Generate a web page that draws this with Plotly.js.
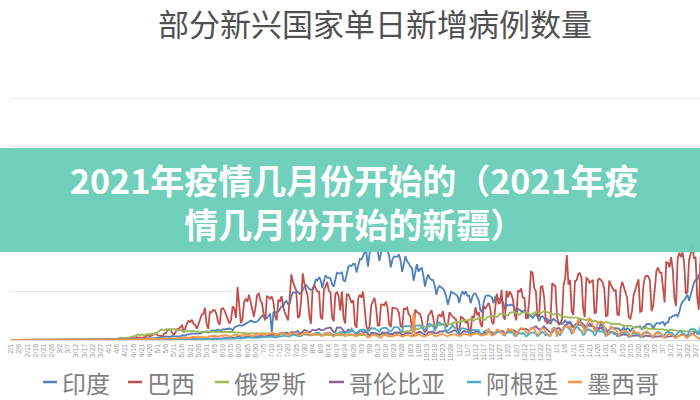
<!DOCTYPE html>
<html><head><meta charset="utf-8">
<script src="https://cdn.plot.ly/plotly-3.0.1.min.js"></script>
<style>html,body{margin:0;padding:0;background:#fff}#chart{width:700px;height:400px}</style>
</head><body><div id="chart"></div>
<script>
// ---- data (daily new cases, thousands), one row = one week (Sat..Fri), from 2020-02-01
const startDate = '2020-02-01';
const chartTitle = '部分新兴国家单日新增病例数量';
const bannerLine1 = '2021年疫情几月份开始的（2021年疫';
const bannerLine2 = '情几月份开始的新疆）';
const seriesNames = ['印度', '巴西', '俄罗斯', '哥伦比亚', '阿根廷', '墨西哥'];

const india = [
0,0,0,0,0,0,0, 0,0,0,0,0,0,0, 0,0,0,0,0,0,0, 0,0,0,0,0,0,0,
0,0,0,0,0,0,0, 0,0,0,0,0,0,0, 0,0,0,0,0,0.1,0.1, 0.1,0.1,0.1,0.1,0.1,0.1,0.2,
0.1,0.2,0.1,0.3,0.4,0.5,0.5, 0.6,0.5,0.5,0.6,0.5,0.8,0.9, 0.8,0.9,0.7,1.4,1.1,1.0,1.1, 1.3,1.6,1.3,1.5,1.5,1.7,1.8,
1.8,1.6,1.6,1.9,1.8,1.8,2.4, 2.7,2.8,3.9,3.0,3.6,3.3,3.3, 3.3,4.2,3.6,3.6,3.7,3.9,3.9, 4.9,5.0,4.6,5.6,5.6,6.1,6.6,
6.7,6.8,6.5,6.4,6.6,7.5,7.9, 8.4,8.8,7.8,8.2,9.6,9.8,9.9, 9.9,10.9,9.9,9.9,11.2,10.9,11.5, 12.0,11.9,11.5,10.0,12.9,13.6,14.5,
15.4,14.8,14.9,15.9,16.9,17.3,18.6, 19.9,19.5,18.5,18.6,19.1,20.9,22.7, 24.9,24.2,22.2,22.8,25.6,27.1,8, 28.6,29.1,28.5,29.4,32.7,35.0,34.9,
38.9,40.4,37.1,37.7,45.7,49.3,48.9, 48.7,49.9,47.7,48.5,52.1,55.1,57.1, 54.7,52.9,52.0,52.5,56.3,62.5,61.5, 65.0,62.1,53.6,60.9,66.9,64.6,64.6,
63.5,57.9,55.1,64.5,69.7,69.0,68.9, 69.9,61.4,60.9,67.2,75.8,77.3,76.5, 78.8,78.5,69.9,78.4,83.9,83.3,86.4, 90.6,90.8,75.8,89.7,95.7,96.6,97.6,
94.4,92.1,81.9,90.1,97.9,96.4,93.3, 92.6,86.9,75.1,83.3,86.5,86.1,86.0, 88.6,82.2,70.6,80.5,86.8,81.5,79.5, 75.8,74.4,61.3,72.0,78.5,70.5,73.3,
74.4,66.7,55.3,63.5,67.7,63.4,62.2, 61.9,55.7,46.8,54.0,55.8,54.4,53.4, 50.1,45.1,36.5,43.9,49.9,48.6,48.3, 46.9,45.2,38.3,46.3,50.2,47.6,50.4,
45.7,45.9,38.1,44.3,48.0,47.9,44.9, 41.1,30.5,29.2,38.6,45.6,45.9,46.2, 45.2,44.1,37.9,44.4,44.5,43.1,41.3, 41.8,38.8,31.1,36.6,35.6,36.6,36.7,
36.0,32.9,26.6,32.1,31.5,29.4,30.0, 30.3,27.1,22.1,26.4,24.0,22.9,25.2, 26.6,24.3,19.6,23.9,24.7,23.1,18.7, 22.3,18.7,16.4,20.5,21.8,20.0,19.1,
18.2,16.5,16.4,18.1,20.3,18.1,18.1, 18.6,16.3,12.6,15.9,16.9,15.6,15.2, 15.1,13.8,10.1,13.8,15.2,14.5,14.3, 14.3,13.2,9.1,12.7,11.7,18.9,13.0,
13.1,11.4,8.6,11.0,12.9,12.4,12.4, 11.7,12.1,11.8,9.1,11.1,12.9,9.3, 12.2,11.4,9.1,11.6,12.9,13.2,13.2, 13.9,14.3,10.6,13.7,13.7,16.7,16.6,
16.5,15.5,12.3,14.9,17.4,17.4,16.8, 18.3,18.7,15.4,17.9,17.9,22.9,23.3, 24.9,25.3,26.3,24.5,28.9,35.9,39.7, 40.9,43.8,46.9,40.7,47.3,53.5,59.1,
62.3,62.7,68.0,56.2,72.3
];

const brazil = [
0,0,0,0,0,0,0, 0,0,0,0,0,0,0, 0,0,0,0,0,0,0, 0,0,0,0,0,0,0,
0,0,0,0,0,0,0, 0,0,0,0,0,0.1,0.1, 0.1,0.1,0.1,0.1,0.1,0.3,0.4, 0.3,0.4,0.3,0.3,0.2,0.5,0.5,
0.5,0.4,0.3,1.1,1.2,1.1,1.1, 1.2,0.9,0.9,1.7,2.2,1.9,1.1, 1.2,1.1,1.3,1.8,3.1,3.3,3.6, 2.9,1.9,1.8,1.9,2.3,3.0,4.0,
5.5,3.4,4.6,5.4,6.3,7.2,5.0, 4.6,4.6,4.1,6.9,6.9,10.5,11.1, 10.6,6.8,5.6,9.3,11.4,11.9,13.9, 15.0,7.9,13.1,17.4,19.9,18.5,20.8,
16.5,15.8,11.7,16.3,20.6,26.4,26.9, 33.3,16.4,11.6,28.9,28.6,30.9,30.8, 27.1,18.9,15.7,32.1,32.9,30.4,25.9, 21.7,17.1,20.6,34.9,32.2,22.8,54.8,
34.7,17.5,21.4,39.4,42.7,39.5,46.9, 38.7,30.5,24.1,33.8,46.7,48.1,41.0, 37.9,26.0,20.2,45.3,44.6,42.6,45.0, 39.0,24.8,20.3,41.9,39.7,45.4,34.2,
28.5,23.5,20.3,44.9,67.9,59.9,55.9, 51.1,23.0,24.6,40.8,69.1,57.8,52.4, 45.4,25.8,16.6,51.6,57.2,53.1,50.2, 49.9,23.0,22.0,52.2,55.2,60.1,50.6,
49.3,23.1,19.4,47.8,49.3,45.3,30.4, 50.0,23.4,17.0,47.1,47.2,42.0,38.4, 41.3,16.2,12.6,42.7,46.9,43.8,50.2, 30.2,14.5,10.3,14.3,35.8,40.6,43.7,
33.5,14.8,15.2,36.7,36.8,35.7,39.8, 33.1,16.4,13.4,33.5,33.5,32.8,31.9, 28.3,14.3,13.4,32.1,31.9,33.4,26.6, 24.6,11.9,8.1,31.6,28.9,27.8,26.7,
20.6,10.4,8.4,10.2,25.4,27.2,30.9, 23.4,12.3,13.5,24.8,26.1,23.9,30.0, 18.9,13.5,15.7,28.6,26.1,24.0,22.5, 21.6,10.1,8.5,23.9,23.0,21.5,17.4,
20.5,9.4,9.6,24.7,23.0,33.9,25.7, 29.1,17.1,13.4,35.2,32.2,35.3,38.4, 33.2,18.6,16.3,31.1,47.9,37.6,38.1, 51.9,24.5,21.1,50.9,44.3,50.4,46.9,
41.6,26.4,20.3,51.1,49.9,53.4,43.9, 43.6,21.8,25.0,42.9,70.6,69.8,54.0, 50.2,25.0,23.9,55.0,55.8,44.8,22.3, 17.3,18.5,20.5,58.7,56.8,55.6,24.6,
15.8,17.3,21.0,56.6,64.0,87.8,57.3, 62.3,29.8,25.8,60.9,61.8,68.1,69.2, 64.5,33.0,23.7,64.0,63.0,59.1,61.3, 62.3,27.8,28.3,61.9,63.5,61.8,59.8,
52.5,24.6,25.4,61.6,56.9,53.9,50.9, 51.7,26.1,25.9,52.9,60.3,54.7,49.8, 43.6,23.5,22.1,30.1,46.5,51.9,57.1, 62.7,29.0,30.0,56.8,65.2,66.6,65.8,
61.6,29.7,35.4,58.2,71.7,75.1,69.6, 69.6,53.9,38.9,80.5,79.9,75.1,85.7, 72.6,43.8,35.0,84.5,90.3,86.0,90.6, 79.1,47.8,49.3,82.5,89.2,100.2,84.2,
85.9,44.3,31.4,84.5,90.6
];

const russia = [
0,0,0,0,0,0,0, 0,0,0,0,0,0,0, 0,0,0,0,0,0,0, 0,0,0,0,0,0,0,
0,0,0,0,0,0,0, 0,0,0,0,0,0,0, 0,0,0,0,0,0,0.1, 0.1,0.1,0.1,0.1,0.2,0.2,0.2,
0.2,0.3,0.3,0.5,0.4,0.8,0.6, 0.6,0.7,1.0,1.2,1.2,1.5,1.8, 1.7,2.2,2.6,2.8,3.4,3.5,4.1, 4.8,6.1,4.3,5.6,5.2,4.8,5.9,
6.0,6.4,6.2,6.4,5.8,7.1,7.9, 9.6,10.6,10.6,10.1,11.2,10.7,10.7, 10.8,11.0,11.7,10.9,10.0,10.0,10.6, 9.2,9.7,8.9,9.3,8.8,8.9,8.9,
9.4,8.6,9.0,8.9,8.3,8.4,8.6, 9.0,9.3,9.0,8.5,8.5,8.8,8.7, 8.9,9.0,8.6,8.4,8.4,8.8,9.0, 8.7,8.8,8.3,8.3,7.8,7.8,8.0,
7.9,7.7,7.6,7.4,7.2,7.1,6.8, 6.9,6.8,6.7,6.6,6.6,6.8,6.6, 6.7,6.7,6.6,6.4,6.6,6.6,6.6, 6.6,6.6,6.5,6.3,6.4,6.4,6.4,
6.2,6.1,5.9,5.8,5.9,5.8,5.9, 5.8,5.6,5.4,5.4,5.5,5.5,5.5, 5.5,5.4,5.2,5.2,5.2,5.2,5.2, 5.2,5.2,5.1,5.1,5.1,5.1,5.1,
5.1,4.9,4.8,4.8,4.8,4.8,4.9, 4.9,4.9,4.7,4.7,4.7,4.7,4.8, 4.9,5.0,4.7,4.7,4.7,5.0,5.1, 5.2,5.2,5.1,5.1,5.2,5.3,5.4,
5.4,5.5,5.5,5.7,5.8,5.9,6.1, 6.2,6.1,6.2,6.4,6.4,6.6,7.2, 7.5,7.9,8.1,8.1,8.2,8.5,9.4, 9.9,10.5,10.9,11.6,11.1,11.5,12.1,
12.8,13.6,13.6,13.9,14.2,14.2,15.1, 15.2,15.7,15.9,16.3,15.0,15.7,16.5, 17.3,17.0,16.6,16.6,16.2,17.7,18.3, 18.1,18.7,18.7,19.8,19.4,19.8,20.6,
20.5,20.6,21.8,20.9,19.9,21.6,21.6, 22.7,22.6,22.8,21.0,20.9,23.6,24.3, 24.6,24.8,25.2,24.3,23.7,25.2,27.5, 27.1,26.7,26.3,26.4,25.3,28.1,28.1,
28.8,29.0,28.1,27.0,26.1,27.9,28.6, 28.6,28.5,28.2,26.7,26.4,27.2,28.2, 28.9,28.6,28.1,27.1,28.6,29.9,29.3, 29.0,28.3,27.8,26.5,26.2,26.5,27.0,
27.0,25.2,24.2,24.0,23.5,24.2,23.4, 22.9,23.3,23.4,23.0,23.2,22.6,22.4, 21.8,21.5,21.0,20.2,21.6,20.9,20.2, 19.3,20.1,19.3,18.0,17.7,19.1,18.4,
17.8,18.4,18.4,17.6,16.6,16.2,16.6, 16.7,16.6,16.6,16.1,15.0,15.1,14.9, 14.2,15.1,14.7,14.2,12.8,13.2,13.4, 13.4,12.9,12.8,12.0,11.8,12.4,11.5,
11.7,11.8,11.4,11.8,11.0,10.6,11.0, 11.0,11.2,10.4,10.6,9.1,10.6,10.6, 10.3,10.0,9.3,9.4,9.6,9.5,9.3, 9.5,9.3,8.9,8.3,8.8,9.2,9.1,
8.8,8.6,8.6,8.6,8.3
];

const colombia = [
0,0,0,0,0,0,0, 0,0,0,0,0,0,0, 0,0,0,0,0,0,0, 0,0,0,0,0,0,0,
0,0,0,0,0,0,0, 0,0,0,0,0,0,0, 0,0,0,0,0,0,0, 0,0,0,0.1,0.1,0,0.1,
0.1,0.1,0.1,0.1,0.2,0.1,0.1, 0.1,0.1,0.1,0.1,0.2,0.1,0.2, 0.1,0.1,0.1,0.1,0.2,0.2,0.2, 0.2,0.2,0.2,0.2,0.2,0.3,0.3,
0.3,0.2,0.3,0.3,0.3,0.4,0.5, 0.4,0.4,0.3,0.5,0.5,0.6,0.6, 0.6,0.5,0.5,0.6,0.5,0.6,0.7, 0.8,0.5,0.6,0.8,0.8,0.8,1.0,
0.9,0.9,0.7,0.8,0.8,0.9,1.0, 1.3,0.8,0.9,1.3,1.1,1.6,1.5, 1.5,1.4,1.3,1.5,1.8,2.1,2.5, 2.0,2.1,1.8,1.6,2.4,2.8,3.2,
3.7,2.7,2.6,2.9,3.2,3.6,4.1, 3.7,3.4,3.2,3.7,3.8,4.2,3.9, 4.3,4.2,3.2,4.0,4.6,4.9,5.2, 5.3,4.7,4.2,4.8,7.1,7.7,7.0,
7.1,7.8,6.6,6.7,8.2,7.9,7.8, 8.6,9.4,6.3,8.0,8.7,10.2,9.5, 9.2,8.1,8.7,10.6,10.1,10.1,10.9, 11.5,10.3,10.3,10.5,11.9,12.1,12.1,
13.0,10.2,8.2,8.3,13.0,12.8,13.1, 11.8,9.5,7.2,8.8,10.9,9.5,9.9, 9.1,7.6,6.4,7.2,9.6,9.7,7.7, 8.3,8.1,6.3,5.0,7.5,7.5,6.9,
7.1,6.3,5.0,5.8,8.0,7.0,7.4, 8.0,6.3,5.6,5.6,7.5,7.7,8.0, 7.8,6.5,5.2,5.8,7.1,7.1,7.6, 7.3,6.3,4.6,4.9,7.6,8.3,8.4,
7.3,6.4,5.5,5.7,8.4,8.0,8.0, 8.8,6.9,7.1,7.5,8.9,8.6,8.8, 9.7,8.5,7.4,7.6,8.2,9.0,10.1, 9.3,7.6,6.0,6.2,8.4,9.4,8.6,
9.0,7.6,6.3,7.3,7.2,8.5,9.1, 8.3,7.0,5.2,6.1,8.0,7.2,8.4, 7.8,8.1,6.3,6.3,7.9,8.6,9.0, 9.2,9.0,7.0,7.2,8.7,9.8,9.6,
10.2,9.5,8.1,8.5,10.7,11.2,10.9, 11.3,11.4,10.0,9.5,11.6,12.5,13.4, 14.2,12.3,10.9,10.9,12.9,14.0,12.4, 11.2,9.2,7.6,7.7,10.4,11.6,11.5,
12.5,11.0,8.0,11.9,15.6,16.3,17.0, 18.0,14.9,13.1,14.1,16.8,17.4,21.0, 17.9,16.1,13.8,12.7,17.5,17.0,15.4, 14.4,13.1,10.0,10.5,12.0,12.5,11.2,
9.6,9.6,6.2,6.4,8.2,8.1,6.5, 6.6,5.2,4.7,4.6,5.6,5.5,5.6, 5.0,4.6,3.6,4.3,4.5,4.1,4.2, 4.7,4.2,3.3,3.2,4.6,4.1,4.0,
4.2,3.5,2.6,3.4,3.6,3.6,4.2, 3.9,3.2,2.6,3.0,3.9,3.6,4.3, 4.4,3.7,3.1,3.4,4.3,5.3,5.2, 5.7,5.0,4.1,4.2,6.2,6.3,7.0,
8.6,8.2,6.4,6.0,9.1
];

const argentina = [
0,0,0,0,0,0,0, 0,0,0,0,0,0,0, 0,0,0,0,0,0,0, 0,0,0,0,0,0,0,
0,0,0,0,0,0,0, 0,0,0,0,0,0,0, 0,0,0,0,0,0,0, 0,0,0,0.1,0.1,0.1,0.1,
0.1,0.1,0.1,0.1,0.1,0.1,0.1, 0.1,0.1,0.1,0.1,0.1,0.1,0.1, 0.1,0.1,0.1,0.1,0.1,0.1,0.1, 0.1,0.1,0.1,0.1,0.2,0.1,0.2,
0.1,0.1,0.1,0.1,0.1,0.2,0.2, 0.2,0.1,0.1,0.2,0.2,0.2,0.2, 0.2,0.2,0.2,0.3,0.3,0.3,0.4, 0.4,0.5,0.4,0.5,0.5,0.6,0.7,
0.7,0.6,0.5,0.6,0.8,0.7,0.8, 0.8,0.8,0.6,0.9,0.9,0.9,0.9, 1.1,1.0,0.8,1.1,1.2,1.4,1.4, 1.5,1.4,1.3,1.4,1.4,2.0,1.6,
2.0,1.6,1.8,2.1,2.6,2.6,2.9, 2.9,2.2,2.3,2.3,2.7,2.8,2.8, 2.8,2.6,2.6,2.7,2.8,3.6,3.4, 3.4,2.6,2.6,3.1,4.2,3.6,4.5,
4.2,3.8,3.2,3.5,4.9,5.8,4.8, 4.9,4.0,3.7,4.1,6.1,6.4,5.9, 5.9,4.9,4.8,5.6,6.8,7.1,7.5, 7.4,6.0,4.7,6.7,7.0,7.2,7.5,
6.9,5.6,5.1,5.9,6.8,7.7,8.2, 8.3,6.7,6.8,7.7,8.0,8.4,11.7, 9.1,7.2,7.6,8.4,10.1,10.5,10.9, 10.4,9.1,8.4,9.9,12.3,11.9,12.3,
10.8,10.1,8.5,11.5,12.2,12.7,12.7, 11.6,9.3,8.8,10.5,13.5,13.0,13.5, 12.0,9.3,8.9,14.4,14.4,14.0,14.7, 14.4,10.0,9.5,14.8,14.9,15.5,15.1,
15.1,10.6,11.0,12.0,15.2,16.8,15.3, 14.2,9.5,12.9,17.1,18.3,16.4,16.3, 15.7,8.9,9.7,11.0,13.0,15.5,12.8, 12.2,7.6,8.0,11.5,12.2,11.8,11.1,
10.9,6.9,7.4,10.5,10.4,11.0,10.5, 10.1,5.6,5.5,8.5,9.8,9.9,9.6, 8.8,4.9,6.1,8.5,8.3,8.6,8.5, 7.2,5.1,4.6,7.9,7.9,7.8,7.7,
7.3,4.4,4.4,6.2,7.3,6.3,7.3, 6.1,3.6,4.7,6.8,7.6,7.6,7.6, 6.3,4.0,5.3,7.2,8.5,7.3,4.7, 5.2,4.8,4.4,11.3,11.5,12.0,7.8,
6.9,5.2,10.1,13.1,13.8,14.0,12.2, 10.6,6.1,8.7,11.5,13.8,12.8,10.4, 9.6,5.3,5.9,9.7,11.0,10.5,9.7, 8.3,4.8,6.3,10.4,8.8,9.0,8.8,
7.5,4.3,5.6,8.5,8.2,8.1,7.7, 6.9,3.6,4.6,7.4,7.4,7.1,7.1, 5.3,3.1,3.8,4.8,7.2,7.1,6.7, 6.2,3.0,5.0,7.4,7.7,7.8,7.5,
6.8,3.5,3.2,5.1,7.8,8.3,7.5, 6.5,3.2,6.0,7.8,8.5,8.2,7.7, 7.0,3.4,5.2,7.6,8.6,9.4,7.0, 6.5,3.6,3.9,9.1,11.2,11.1,11.3,
10.4,5.8,8.0,14.0,16.0
];

const mexico = [
0,0,0,0,0,0,0, 0,0,0,0,0,0,0, 0,0,0,0,0,0,0, 0,0,0,0,0,0,0,
0,0,0,0,0,0,0, 0,0,0,0,0,0,0, 0,0,0,0,0,0,0, 0.1,0,0.1,0.1,0.1,0.1,0.1,
0.2,0.1,0.1,0.1,0.2,0.2,0.2, 0.2,0.3,0.3,0.4,0.4,0.3,0.2, 0.4,0.4,0.4,0.5,0.4,0.4,0.5, 0.6,0.8,0.7,0.8,0.6,1.0,1.0,
0.8,0.8,1.2,1.2,1.3,1.4,1.5, 1.3,1.1,1.4,1.4,1.6,1.5,2.0, 1.9,1.6,1.3,1.1,2.0,2.2,2.1, 2.6,2.4,2.4,2.7,2.1,2.2,3.0,
3.3,2.7,2.8,3.5,3.5,3.4,3.2, 3.0,2.8,2.8,3.9,3.9,4.4,4.4, 3.6,3.5,3.5,4.9,3.9,5.0,5.2, 4.7,3.4,3.4,4.6,4.9,5.7,5.0,
4.6,5.0,4.6,6.3,5.0,6.1,5.5, 4.4,4.1,4.1,5.4,6.7,6.4,6.7, 6.6,4.7,4.7,6.3,6.6,6.6,6.9, 7.3,5.0,4.5,6.1,6.7,7.6,7.0,
6.1,5.3,4.7,6.8,6.9,7.0,6.6, 6.8,5.6,4.6,5.2,6.6,7.2,7.0, 8.5,5.0,4.9,6.1,6.1,6.1,5.7, 5.9,4.4,4.1,6.7,6.4,6.3,7.3,
6.1,5.2,3.5,5.3,6.1,5.9,6.3, 6.5,5.6,3.9,4.4,5.8,5.8,5.8, 5.6,4.1,3.7,4.8,6.4,6.0,5.7, 6.0,4.3,2.5,3.5,4.3,5.0,5.9,
4.4,4.5,3.2,2.0,4.4,4.8,5.6, 3.9,3.9,3.3,3.9,4.6,5.4,5.4, 4.9,3.9,3.4,4.2,5.1,5.3,4.9, 4.5,3.7,28.1,4.0,4.9,6.3,5.6,
4.0,4.1,3.4,4.8,5.4,5.6,6.0, 6.0,3.9,4.5,4.3,6.2,5.4,6.2, 5.1,4.0,3.6,5.1,5.6,5.9,5.9, 5.9,4.3,4.6,4.4,5.9,6.4,6.2,
5.7,4.7,4.2,6.0,5.9,7.0,7.3, 5.9,4.7,4.8,4.8,6.1,5.7,12.1, 6.4,5.4,4.8,7.5,10.8,10.3,8.4, 6.4,5.3,6.4,8.4,12.1,9.5,11.0,
8.9,6.8,4.8,8.7,11.3,12.3,12.1, 11.0,7.7,6.8,10.4,12.3,11.9,12.1, 7.3,6.0,5.8,10.9,12.5,11.3,8.6, 5.9,4.2,4.9,10.4,12.8,10.5,3.4,
9.5,8.4,8.5,13.3,13.1,14.7,13.2, 14.4,9.8,6.6,14.4,15.9,21.4,18.2, 15.6,14.5,7.3,12.3,18.7,22.3,21.0, 14.6,8.7,10.9,17.2,18.9,18.6,16.9,
13.7,7.5,4.3,8.1,14.0,13.0,10.8, 10.7,7.2,4.8,7.3,9.7,9.6,9.0, 8.4,6.6,2.9,6.1,10.4,8.1,7.6, 7.5,6.1,3.8,7.2,7.8,9.1,7.3,
6.0,4.4,3.3,6.2,7.2,6.9,7.2, 5.8,3.4,2.5,4.8,6.0,6.6,5.7, 4.8,2.5,2.2,3.7,4.4,5.1,5.2, 5.0,2.7,2.1,3.6,5.4,5.8,5.4,
4.1,2.2,1.3,2.5,5.5
];

// ---- styles
const seriesColors = ['#4F81BD', '#C0504D', '#9BBB59', '#8064A2', '#4BACC6', '#F79646'];
const allSeries = [india, brazil, russia, colombia, argentina, mexico];

allSeries.forEach((s, k) => {
  if (s.length !== india.length) throw new Error('length mismatch ' + seriesNames[k] + ' ' + s.length + ' vs ' + india.length);
});

const dates = india.map((_, i) => {
  const d = new Date(Date.parse(startDate + 'T00:00:00Z') + i * 86400000);
  return d.toISOString().slice(0, 10);
});

const traces = allSeries.map((s, k) => ({
  type: 'scatter', mode: 'lines', name: seriesNames[k],
  x: dates, y: s,
  line: {color: seriesColors[k], width: 1.8},
  hoverinfo: 'skip'
}));

// plot area geometry (pixels)
const L = 10, T = 50, W = 690, H = 290;
const px = X => (X - L) / W;
const py = Y => (T + H - Y) / H;

const shapes = [];
const annotations = [];

// legend (dash + label)
const legendItems = [
  {dash: [43, 57], text: 60},
  {dash: [128, 142], text: 145},
  {dash: [215, 229], text: 232},
  {dash: [329, 344], text: 347},
  {dash: [467, 481], text: 484},
  {dash: [568, 582], text: 585}
];
legendItems.forEach((it, k) => {
  shapes.push({type: 'line', xref: 'paper', yref: 'paper',
    x0: px(it.dash[0]), x1: px(it.dash[1]), y0: py(382), y1: py(382),
    line: {color: seriesColors[k], width: 2.5}});
  annotations.push({xref: 'paper', yref: 'paper', x: px(it.text), y: py(382),
    xanchor: 'left', yanchor: 'middle', showarrow: false, text: seriesNames[k],
    font: {family: 'Noto Sans CJK SC, sans-serif', size: 24, color: '#7f7f7f'}});
});

// banner overlay (one two-line text block)
shapes.push({type: 'rect', xref: 'paper', yref: 'paper', layer: 'above',
  x0: px(0), x1: px(700), y0: py(252), y1: py(148),
  fillcolor: '#68CDB7', opacity: 0.95, line: {width: 0}});
annotations.push({xref: 'paper', yref: 'paper', x: px(354), y: py(201),
  xanchor: 'center', yanchor: 'middle', align: 'center', showarrow: false,
  text: '<b>' + bannerLine1 + '<br>' + bannerLine2 + '</b>',
  font: {family: 'Noto Sans CJK SC, sans-serif', size: 34, color: '#ffffff'}});

const layout = {
  width: 700, height: 400,
  margin: {l: L, r: 700 - L - W, t: T, b: 400 - T - H, pad: 0},
  paper_bgcolor: '#ffffff', plot_bgcolor: '#ffffff',
  showlegend: false,
  title: {text: chartTitle, x: 375 / 700, xanchor: 'center', y: 1 - 25 / 400, yanchor: 'middle',
    font: {family: 'Noto Sans CJK SC, sans-serif', size: 31, color: '#505050'}},
  xaxis: {
    type: 'date', range: ['2020-01-31 09:00', '2021-03-29 17:00'],
    tick0: startDate, dtick: 5 * 86400000, tickformat: '%-m/%-d', tickangle: -90,
    tickfont: {family: 'Liberation Sans, Arial, sans-serif', size: 7, color: '#9a9a9a'},
    ticks: '', showgrid: false, zeroline: false,
    showline: true, linecolor: '#d9d9d9', linewidth: 1
  },
  yaxis: {
    range: [0, 300], dtick: 50, showticklabels: false, ticks: '',
    showgrid: true, gridcolor: '#ebebeb', gridwidth: 1, zeroline: false, showline: false
  },
  shapes: shapes,
  annotations: annotations
};

Plotly.newPlot('chart', traces, layout, {displayModeBar: false, staticPlot: true});
</script>
</body></html>
